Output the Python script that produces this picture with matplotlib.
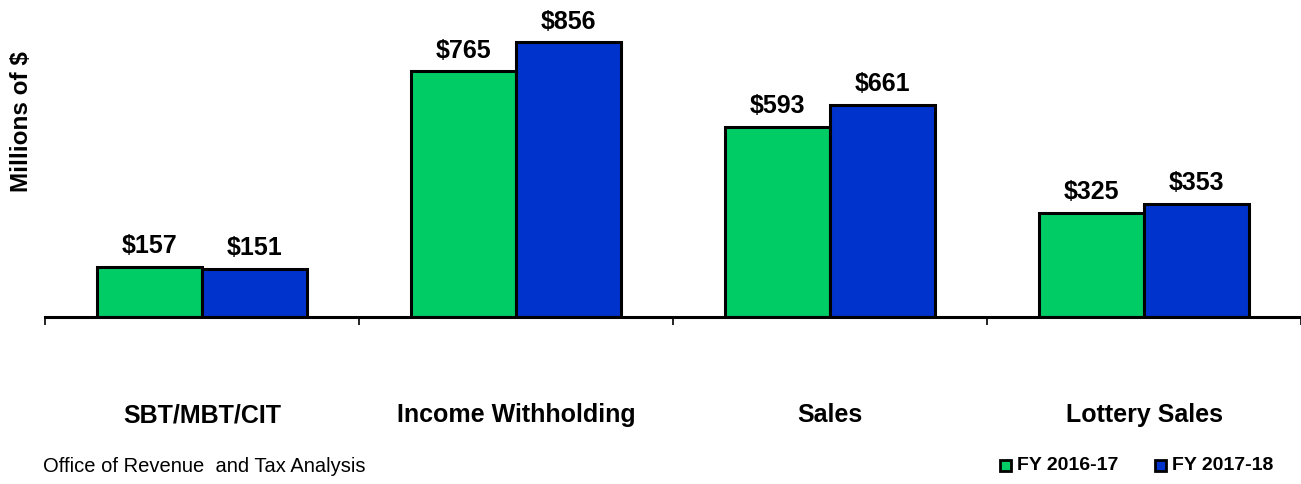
import matplotlib.pyplot as plt
import numpy as np
from matplotlib.patches import Rectangle

plt.rcParams['font.family'] = ['Liberation Sans', 'DejaVu Sans']

categories = ['SBT/MBT/CIT', 'Income Withholding', 'Sales', 'Lottery Sales']
fy_2016_17 = [157, 765, 593, 325]
fy_2017_18 = [151, 856, 661, 353]
series_names = ['FY 2016-17', 'FY 2017-18']

green = '#00CC66'
blue = '#0033CC'

W, H = 1301, 484
fig = plt.figure(figsize=(W / 100, H / 100), dpi=100)
ax = fig.add_axes([45 / W, 1 - 317 / H, 1256 / W, 317 / H])

x = np.arange(len(categories))
w = 0.335
b1 = ax.bar(x - w / 2, fy_2016_17, w, color=green, edgecolor='black', linewidth=2.2)
b2 = ax.bar(x + w / 2, fy_2017_18, w, color=blue, edgecolor='black', linewidth=2.2)

for bars, vals in [(b1, fy_2016_17), (b2, fy_2017_18)]:
    for rect, v in zip(bars, vals):
        ax.annotate('$' + str(v), (rect.get_x() + rect.get_width() / 2, v),
                    xytext=(0, 6), textcoords='offset points',
                    ha='center', va='bottom', fontsize=18, fontweight='bold')

ax.set_xlim(-0.5, 3.5)
ax.set_ylim(0, 987)

for s in ['top', 'right', 'left']:
    ax.spines[s].set_visible(False)
ax.spines['bottom'].set_linewidth(2.2)
ax.set_yticks([])

ax.set_xticks(x)
ax.set_xticklabels(categories, fontsize=18, fontweight='bold')
ax.tick_params(axis='x', which='major', length=0, pad=62)
ax.set_xticks(np.arange(-0.5, 4, 1), minor=True)
ax.tick_params(axis='x', which='minor', length=6, width=1.2, direction='out')

fig.text(22 / W, 1 - 122 / H, 'Millions of $', rotation=90, ha='center', va='center',
         fontsize=17.5, fontweight='bold')
fig.text(43 / W, 1 - 467 / H, 'Office of Revenue  and Tax Analysis', ha='left', va='center',
         fontsize=14.5)

# legend drawn by hand: small squares with bold labels
for name, col, sx in [(series_names[0], green, 1000), (series_names[1], blue, 1155)]:
    fig.patches.append(Rectangle((sx / W, 1 - 471 / H), 11 / W, 11 / H, transform=fig.transFigure,
                                 facecolor=col, edgecolor='black', linewidth=2))
    fig.text((sx + 17) / W, 1 - 466 / H, name, ha='left', va='center',
             fontsize=14, fontweight='bold')

fig.savefig('out.png', dpi=100)
